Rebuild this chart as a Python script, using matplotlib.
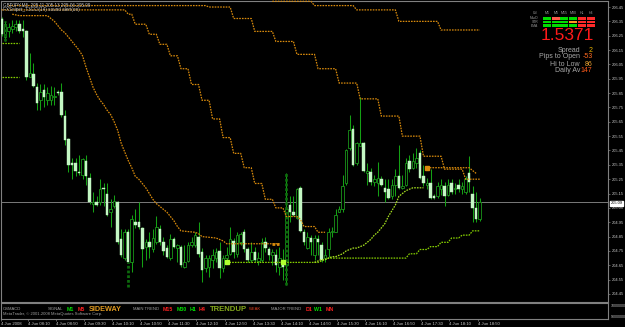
import numpy as np
import matplotlib
matplotlib.use("Agg")
import matplotlib.pyplot as plt
from matplotlib.patches import Rectangle

W, H = 625, 327
fig = plt.figure(figsize=(W / 100, H / 100), dpi=100, facecolor="black")

def fx(x):
    return x / W

def fy(y):
    return 1 - y / H

# ---------------- data (GBPJPY M5, 4 Jun 2008) ----------------
opens = [206.37, 206.24, 206.28, 206.30, 206.31, 206.33, 206.30, 206.28, 205.96, 205.98,
         205.89, 205.80, 205.87, 205.80, 205.80, 205.82, 205.86, 205.86, 205.69, 205.53,
         205.36, 205.36, 205.30, 205.28, 205.38, 205.26, 205.08, 205.09, 205.09, 205.19,
         205.15, 205.02, 205.06, 205.09, 204.83, 204.70, 204.88, 204.67, 204.95, 204.95,
         204.91, 204.78, 204.81, 204.76, 204.81, 204.90, 204.81, 204.77, 204.70, 204.83,
         204.77, 204.78, 204.64, 204.68, 204.79, 204.79, 204.85, 204.74, 204.63, 204.64,
         204.69, 204.70, 204.75, 204.63, 204.70, 204.73, 204.82, 204.73, 204.81, 204.88,
         204.76, 204.69, 204.74, 204.68, 204.69, 204.81, 204.76, 204.72, 204.72, 204.64,
         204.67, 204.65, 205.07, 205.02, 204.98, 205.19, 204.88, 204.77, 204.84, 204.72,
         204.83, 204.79, 204.70, 204.76, 204.88, 204.88, 205.02, 205.04, 205.22, 205.47,
         205.60, 205.36, 205.48, 205.50, 205.29, 205.30, 205.23, 205.22, 205.25, 205.19,
         205.18, 205.13, 205.21, 205.27, 205.19, 205.21, 205.38, 205.33, 205.36, 205.43,
         205.27, 205.21, 205.22, 205.13, 205.13, 205.18, 205.20, 205.14, 205.22, 205.18,
         205.21, 205.18, 205.16, 205.29, 205.15, 205.05, 204.97]
highs = [206.38, 206.35, 206.34, 206.36, 206.36, 206.36, 206.36, 206.29, 206.13, 206.06,
         205.92, 205.91, 205.91, 205.89, 205.90, 205.89, 205.87, 205.92, 205.73, 205.54,
         205.40, 205.40, 205.42, 205.40, 205.42, 205.29, 205.16, 205.13, 205.25, 205.22,
         205.22, 205.11, 205.14, 205.10, 204.90, 204.90, 204.90, 205.00, 205.04, 205.09,
         204.92, 204.83, 204.88, 204.90, 204.99, 204.93, 204.85, 204.79, 204.87, 204.85,
         204.80, 204.79, 204.79, 204.81, 204.85, 204.88, 204.95, 204.77, 204.72, 204.72,
         204.76, 204.77, 204.81, 204.72, 204.78, 204.92, 204.84, 204.88, 204.88, 204.90,
         204.78, 204.81, 204.78, 204.74, 204.84, 204.85, 204.78, 204.76, 204.76, 204.78,
         204.76, 205.29, 205.13, 205.13, 205.19, 205.20, 204.90, 204.88, 204.86, 204.86,
         204.86, 204.81, 204.76, 204.91, 204.92, 205.04, 205.06, 205.28, 205.46, 205.70,
         205.63, 205.51, 205.82, 205.51, 205.36, 205.33, 205.28, 205.37, 205.27, 205.25,
         205.25, 205.25, 205.32, 205.49, 205.28, 205.40, 205.42, 205.43, 205.47, 205.45,
         205.35, 205.26, 205.32, 205.15, 205.23, 205.25, 205.23, 205.25, 205.25, 205.22,
         205.25, 205.23, 205.27, 205.41, 205.20, 205.16, 205.12]
lows = [206.25, 206.21, 206.24, 206.27, 206.28, 206.27, 206.24, 205.94, 205.96, 205.89,
        205.73, 205.73, 205.75, 205.77, 205.77, 205.77, 205.84, 205.68, 205.49, 205.30,
        205.25, 205.27, 205.28, 205.25, 205.21, 205.08, 205.02, 205.06, 205.07, 205.06,
        204.99, 204.92, 205.05, 204.80, 204.71, 204.69, 204.67, 204.60, 204.91, 204.90,
        204.64, 204.69, 204.70, 204.74, 204.80, 204.79, 204.72, 204.70, 204.69, 204.77,
        204.67, 204.64, 204.63, 204.67, 204.78, 204.78, 204.71, 204.53, 204.60, 204.57,
        204.63, 204.67, 204.56, 204.60, 204.67, 204.72, 204.70, 204.71, 204.79, 204.74,
        204.67, 204.67, 204.67, 204.65, 204.67, 204.74, 204.69, 204.65, 204.60, 204.58,
        204.55, 204.51, 204.95, 204.99, 204.97, 204.88, 204.79, 204.76, 204.72, 204.69,
        204.72, 204.67, 204.67, 204.71, 204.85, 204.88, 205.02, 205.02, 205.21, 205.45,
        205.34, 205.35, 205.48, 205.30, 205.21, 205.21, 205.20, 205.13, 205.20, 205.09,
        205.11, 205.11, 205.13, 205.18, 205.18, 205.20, 205.30, 205.32, 205.33, 205.25,
        205.20, 205.18, 205.11, 205.11, 205.12, 205.14, 205.06, 205.13, 205.15, 205.15,
        205.16, 205.15, 205.15, 205.16, 204.95, 204.95, 204.96]
closes = [206.26, 206.33, 206.31, 206.32, 206.33, 206.28, 206.28, 205.96, 205.99, 205.90,
          205.78, 205.86, 205.82, 205.85, 205.84, 205.83, 205.85, 205.70, 205.52, 205.35,
          205.35, 205.31, 205.29, 205.39, 205.27, 205.09, 205.09, 205.07, 205.18, 205.18,
          205.00, 205.04, 205.10, 204.81, 204.72, 204.88, 204.67, 204.97, 204.93, 204.92,
          204.76, 204.81, 204.78, 204.84, 204.92, 204.81, 204.75, 204.71, 204.83, 204.78,
          204.79, 204.65, 204.67, 204.79, 204.81, 204.86, 204.73, 204.62, 204.70, 204.70,
          204.72, 204.74, 204.63, 204.70, 204.72, 204.83, 204.74, 204.86, 204.87, 204.76,
          204.69, 204.74, 204.69, 204.70, 204.81, 204.77, 204.72, 204.74, 204.65, 204.70,
          204.64, 205.04, 205.02, 205.00, 205.18, 204.89, 204.81, 204.85, 204.81, 204.84,
          204.81, 204.69, 204.72, 204.88, 204.89, 205.00, 205.04, 205.20, 205.45, 205.59,
          205.35, 205.50, 205.50, 205.31, 205.31, 205.23, 205.25, 205.26, 205.21, 205.16,
          205.12, 205.21, 205.27, 205.19, 205.20, 205.36, 205.32, 205.38, 205.40, 205.26,
          205.22, 205.22, 205.12, 205.12, 205.20, 205.21, 205.13, 205.21, 205.16, 205.19,
          205.18, 205.20, 205.25, 205.23, 205.05, 204.97, 205.09]

# dotted dark-green spike bars (bar index, top, bottom)
spike_bars = [1, 36, 81]
spike_tops = [206.35, 204.67, 205.29]
spike_bottoms = [206.21, 204.50, 204.51]

# orange staircase lines: first bar of each step and its level
stairB_start = [77, 89, 101, 113, 125]
stairB_level = [206.49, 206.46, 206.43, 206.35, 206.29]
stairB_end = 136
stairC_start = [2, 59, 66, 72, 78, 84, 90, 96, 102, 108, 114, 120, 126, 132]
stairC_level = [206.46, 206.45, 206.37, 206.28, 206.21, 206.12, 206.02, 205.92,
                205.81, 205.69, 205.55, 205.41, 205.32, 205.25]
stairC_end = 136
stairD_start = [0, 36, 38, 42, 45, 48, 51, 54, 57, 60, 63, 66, 69, 72, 75, 78, 81, 85, 86, 90]
stairD_level = [206.43, 206.40, 206.33, 206.26, 206.19, 206.11, 206.02, 205.91, 205.80,
                205.67, 205.54, 205.43, 205.33, 205.22, 205.11, 205.05, 204.99, 204.97,
                204.92, 204.88]
stairD_end = 92
stairE_start = [121, 134, 135]
stairE_level = [205.33, 205.31, 205.29]
stairE_end = 135

# orange trailing line (bar index -> value)
trailA_bars = [3, 5, 13, 14, 15, 16, 17, 18, 19, 20, 21, 22, 23, 24, 25, 26, 27, 28, 29, 30,
               31, 32, 33, 34, 35, 36, 37, 38, 39, 40, 41, 42, 43, 44, 45, 46, 47, 48, 49,
               50, 51, 55, 56, 57, 61, 62, 63, 64, 79]
trailA_vals = [206.40, 206.39, 206.39, 206.37, 206.35, 206.32, 206.29, 206.27, 206.24,
               206.21, 206.18, 206.15, 206.11, 206.03, 205.96, 205.89, 205.84, 205.80,
               205.77, 205.73, 205.70, 205.65, 205.59, 205.50, 205.44, 205.38, 205.33,
               205.27, 205.25, 205.22, 205.19, 205.15, 205.11, 205.08, 205.06, 205.04,
               205.02, 204.99, 204.96, 204.92, 204.89, 204.88, 204.87, 204.85, 204.84,
               204.83, 204.82, 204.80, 204.80]

# lime support lines
limeLow_start = [64, 90, 91, 92, 93, 116, 119, 122, 125, 128, 131, 134]
limeLow_level = [204.67, 204.67, 204.68, 204.69, 204.70, 204.73, 204.76, 204.78,
                 204.81, 204.84, 204.86, 204.89]
limeLow_end = 136
limeUp_bars = list(range(89, 121))
limeUp_vals = [204.67, 204.68, 204.69, 204.69, 204.70, 204.71, 204.71, 204.72, 204.73,
               204.75, 204.76, 204.77, 204.77, 204.78, 204.79, 204.81, 204.83, 204.86,
               204.88, 204.91, 204.94, 204.99, 205.03, 205.07, 205.13, 205.15, 205.17,
               205.18, 205.19, 205.19, 205.19, 205.19]
limeLeft_levels = [206.20, 205.96]
limeLeft_bars = [0, 5]

bid_price = 205.09
price_ticks = [204.45, 204.55, 204.65, 204.75, 204.85, 204.95, 205.05, 205.15, 205.25,
               205.35, 205.45, 205.55, 205.65, 205.75, 205.85, 205.95, 206.05, 206.15,
               206.25, 206.35, 206.45]
time_labels = ["4 Jun 2008", "4 Jun 08:10", "4 Jun 08:50", "4 Jun 09:30", "4 Jun 10:10",
               "4 Jun 10:50", "4 Jun 11:30", "4 Jun 12:10", "4 Jun 12:50", "4 Jun 13:30",
               "4 Jun 14:10", "4 Jun 14:50", "4 Jun 15:30", "4 Jun 16:10", "4 Jun 16:50",
               "4 Jun 17:30", "4 Jun 18:10", "4 Jun 18:50"]
time_pos = [-0.2] + [7.4 + 8 * k for k in range(17)]

# ---------------- main price panel ----------------
GRID = "#808080"
ax = fig.add_axes([fx(1), fy(302), (608 - 1) / W, (302 - 1) / H])
ax.set_facecolor("black")
ax.set_xlim(-0.2, 172.5)
ax.set_ylim(204.394, 206.492)
for s in ax.spines.values():
    s.set_color(GRID)
    s.set_linewidth(0.8)
ax.set_xticks([])
ax.yaxis.tick_right()
ax.set_yticks(price_ticks)
ax.set_yticklabels([f"{p:.2f}" for p in price_ticks])
ax.tick_params(axis="y", colors=GRID, labelcolor="#c8c8c8", labelsize=2.9, length=1.5,
               width=0.5, pad=1.0)
for lab in ax.get_yticklabels():
    lab.set_family("Liberation Sans")

ax.axhline(bid_price, color="#7a7a7a", lw=0.7, zorder=1)

def stair(starts, levels, end):
    xs = np.arange(starts[0], end + 1)
    idx = np.searchsorted(starts, xs, side="right") - 1
    return xs, np.array(levels)[idx]

ORANGE = "#d88a0c"
LIME = "#86d000"
dot = (0, (1.3, 0.9))

for st, lv, en in [(stairB_start, stairB_level, stairB_end),
                   (stairC_start, stairC_level, stairC_end),
                   (stairD_start, stairD_level, stairD_end),
                   (stairE_start, stairE_level, stairE_end)]:
    xs, ys = stair(st, lv, en)
    ax.plot(xs, ys, color=ORANGE, lw=0.9, ls=dot, zorder=4, clip_on=False)

ta_x = np.arange(trailA_bars[0], trailA_bars[-1] + 1)
ta_y = np.interp(ta_x, trailA_bars, trailA_vals)
ax.plot(ta_x, ta_y, color=ORANGE, lw=0.9, ls=dot, zorder=4)
ax.plot([77, 78, 79], [204.80, 204.80, 204.80], color=ORANGE, lw=2, ls=(0, (1, 0.6)), zorder=4)
ax.plot([stairE_start[0]], [stairE_level[0]], "s", color=ORANGE, ms=2.2, zorder=5)

xs, ys = stair(limeLow_start, limeLow_level, limeLow_end)
ax.plot(xs, ys, color=LIME, lw=0.9, ls=dot, zorder=4)
ax.plot(limeUp_bars, limeUp_vals, color="#a6e020", lw=0.9, ls=dot, zorder=4)
ax.plot([64, 80], [204.67, 204.67], "s", color="#b0ff30", ms=2.2, zorder=5, lw=0)
for lv in limeLeft_levels:
    ax.plot(np.arange(limeLeft_bars[0], limeLeft_bars[1] + 1), [lv] * 6, color=LIME,
            lw=0.9, ls=dot, zorder=4)

# candles
WICK = "#14a014"
PALE = "#c4f7c4"
DARKEDGE = "#1a961a"
bw = 0.72
for i, (o, h, l, c) in enumerate(zip(opens, highs, lows, closes)):
    ax.plot([i, i], [l, h], color=WICK, lw=0.75, zorder=2, solid_capstyle="butt")
    lo, hi = min(o, c), max(o, c)
    hgt = max(hi - lo, 0.004)
    if c < o:
        ax.add_patch(Rectangle((i - bw / 2, lo), bw, hgt, facecolor=PALE, edgecolor=PALE,
                               lw=0.3, zorder=3))
    else:
        ax.add_patch(Rectangle((i - bw / 2, lo), bw, hgt, facecolor="black",
                               edgecolor=DARKEDGE, lw=0.6, zorder=3))
for b, t, bt in zip(spike_bars, spike_tops, spike_bottoms):
    ax.plot([b, b], [bt, t], color="#0d6a0d", lw=2.0, ls=(0, (1, 0.7)), zorder=3)

# bid label box
fig.text(fx(610.5), fy(203.5), f"{bid_price:.2f}", color="black", fontsize=2.9,
         family="Liberation Sans", va="center", ha="left",
         bbox=dict(boxstyle="square,pad=0.15", facecolor="white", edgecolor="white"))

# title lines
fig.text(fx(3), fy(5), "GBPJPY,M5  205.11 205.13 205.06 205.09", color="#c0c0c0",
         fontsize=3.3, family="Liberation Sans", va="center")
fig.text(fx(3), fy(9.5), "FXSniper_T3CCI(14) sound alert(on)", color="#c0c0c0",
         fontsize=3.3, family="Liberation Sans", va="center")

# top-right dashboard
hdr = ["Cd", "M1", "M5", "M15", "M30", "H1", "H4"]
hdr_x = [535, 547, 556, 564, 573, 582, 591]
for t, x in zip(hdr, hdr_x):
    fig.text(fx(x), fy(13.5), t, color="#9a9a9a", fontsize=2.6, family="Liberation Sans",
             ha="center", va="center")
row_names = ["MacD", "STR", "EMA"]
row_y = [18.3, 22.0, 25.7]
G, R, O = "#00dd00", "#ff2a2a", "#ff9a20"
light_colors = [[G, "#ff5a4a", G, G, R, R],
                [G, G, G, O, R, R],
                [G, G, G, G, R, R]]
for rn, yy, cols in zip(row_names, row_y, light_colors):
    fig.text(fx(538), fy(yy), rn, color="#9a9a9a", fontsize=2.4, family="Liberation Sans",
             ha="right", va="center")
    for xc, col in zip(hdr_x[1:], cols):
        fig.patches.append(Rectangle((fx(xc - 3.6), fy(yy + 1.3)), 7.2 / W, 2.6 / H,
                                     transform=fig.transFigure, facecolor=col,
                                     edgecolor="none"))
fig.text(fx(567.5), fy(36), "1.5371", color="#ff1a1a", fontsize=12.5,
         family="Liberation Sans", ha="center", va="center")
info_labels = ["Spread", "Pips to Open", "Hi to Low", "Daily Av"]
info_vals = ["2", "-53", "86", "147"]
info_cols = ["#e8b400", "#ff6a20", "#e8a030", "#ff5a1a"]
info_y = [50, 57, 64, 71]
for lab, val, col, yy in zip(info_labels, info_vals, info_cols, info_y):
    fig.text(fx(580), fy(yy), lab, color="#a8a8a8", fontsize=5, family="Liberation Sans",
             ha="right", va="center")
    fig.text(fx(592.5), fy(yy), val, color=col, fontsize=5, family="Liberation Sans",
             ha="right", va="center")

# ---------------- indicator panel ----------------
ax2 = fig.add_axes([fx(1), fy(319), (608 - 1) / W, (319 - 303) / H])
ax2.set_facecolor("black")
ax2.set_xlim(-0.2, 172.5)
ax2.set_ylim(0, 1)
for s in ax2.spines.values():
    s.set_color(GRID)
    s.set_linewidth(0.8)
ax2.set_yticks([])
ax2.set_xticks(time_pos)
ax2.set_xticklabels(time_labels)
ax2.tick_params(axis="x", colors=GRID, labelcolor="#c8c8c8", labelsize=3.1, length=1.5,
                width=0.5, pad=1)
for lab in ax2.get_xticklabels():
    lab.set_ha("left")
    lab.set_family("Liberation Sans")
fig.text(fx(610.5), fy(306), "70000000", color="#c8c8c8", fontsize=2.6,
         family="Liberation Sans", va="center")
fig.text(fx(610.5), fy(317), "90000000", color="#c8c8c8", fontsize=2.6,
         family="Liberation Sans", va="center")

sig = [("OSMACD", 3, "#a0a0a0", 3.0, "normal"),
       ("SIGNAL", 48, "#a0a0a0", 3.0, "normal"),
       ("M1", 67, "#00e000", 3.8, "bold"),
       ("M5", 78, "#ff2020", 3.8, "bold"),
       ("SIDEWAY", 89, "#e09a20", 5.2, "bold"),
       ("MAIN TREND", 133, "#a0a0a0", 3.0, "normal"),
       ("M15", 163, "#ff2020", 3.8, "bold"),
       ("M30", 177, "#00e000", 3.8, "bold"),
       ("H1", 190, "#00e000", 3.8, "bold"),
       ("H4", 199, "#ff2020", 3.8, "bold"),
       ("TRENDUP", 210, "#84a81c", 5.6, "bold"),
       ("WEAK", 249, "#e04020", 3.0, "normal"),
       ("MAJOR TREND", 271, "#a0a0a0", 3.0, "normal"),
       ("D1", 306, "#ff2020", 3.8, "bold"),
       ("W1", 314, "#00e000", 3.8, "bold"),
       ("MN", 326, "#ff2020", 3.8, "bold")]
for t, x, col, fs, fw in sig:
    fig.text(fx(x), fy(309.3), t, color=col, fontsize=fs, fontweight=fw,
             family="Liberation Sans", va="center", ha="left")
fig.text(fx(3), fy(314.5), "MetaTrader, \u00a9 2001-2008 MetaQuotes Software Corp.",
         color="#a0a0a0", fontsize=3.0, family="Liberation Sans", va="center")

fig.savefig("out.png", dpi=100, facecolor="black")
